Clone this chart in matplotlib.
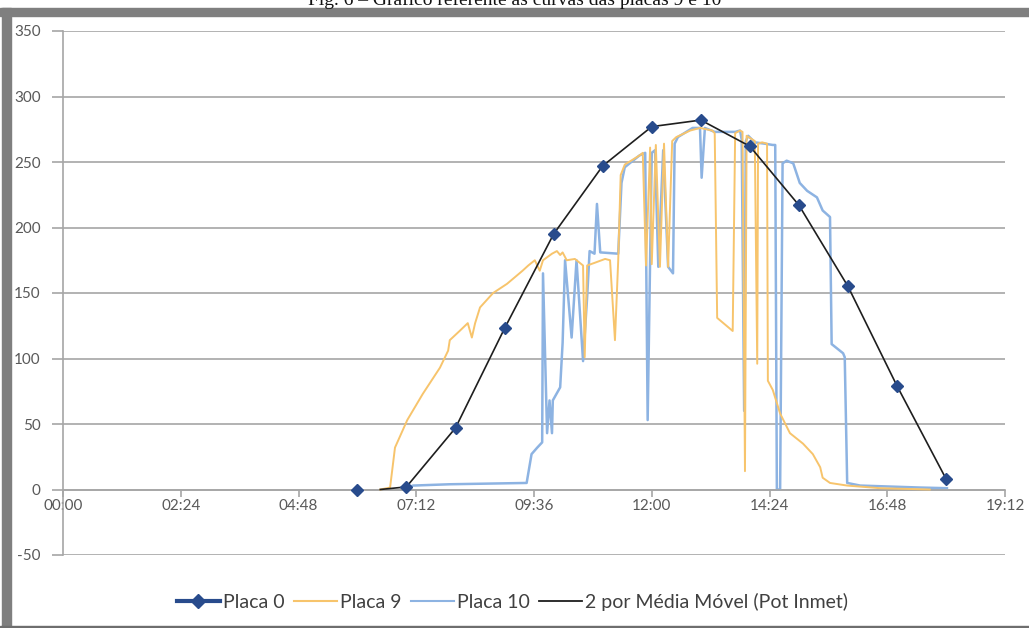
import matplotlib
matplotlib.use("Agg")
import matplotlib.pyplot as plt
from matplotlib.lines import Line2D
from matplotlib.patches import Rectangle

# ---- data (time of day, power) ----
placa0_t = ["06:00", "07:00", "08:00", "09:00", "10:00", "11:00", "12:00",
            "13:00", "14:00", "15:00", "16:00", "17:00", "18:00"]
placa0_v = [0, 2, 47, 123, 195, 247, 277, 282, 262, 217, 155, 79, 8]

mm_t = ["06:28", "07:00", "08:00", "09:00", "10:00", "11:00", "12:00",
        "13:00", "14:00", "15:00", "16:00", "17:00", "18:00"]
mm_v = [0, 2, 47, 123, 195, 247, 277, 282, 262, 217, 155, 79, 8]

placa9_t = ["06:28", "06:40", "06:46", "07:01", "07:20", "07:41", "07:51", "07:53",
            "08:05", "08:15", "08:20", "08:24", "08:30", "08:46", "09:03", "09:22",
            "09:29", "09:33", "09:37", "09:43", "09:47", "09:58", "10:04", "10:08",
            "10:11", "10:16", "10:26", "10:32", "10:36", "10:38", "10:41", "10:50",
            "11:03", "11:09", "11:15", "11:19", "11:22", "11:27", "11:45", "11:49",
            "11:53", "11:58", "12:00", "12:05", "12:10", "12:15", "12:20", "12:25",
            "12:30", "12:47", "12:59", "13:14", "13:17", "13:20", "13:39", "13:42",
            "13:48", "13:51", "13:54", "13:56", "14:06", "14:09", "14:10", "14:15",
            "14:21", "14:22", "14:28", "14:37", "14:49", "15:05", "15:17", "15:26",
            "15:29", "15:38", "15:59", "16:39", "17:40"]
placa9_v = [0, 1.5, 32, 53, 73, 93, 106, 114,
            121, 127, 116, 127, 139, 150, 157, 167,
            171, 173, 175, 167, 175, 180, 182, 179,
            181, 175, 176, 173, 171, 101, 171, 173,
            176, 175, 114, 175, 240, 248, 255, 257,
            171, 261, 172, 263, 170, 264, 170, 266,
            269, 274, 276, 274, 272, 131, 121, 272,
            274, 273, 14, 270, 266, 96, 264, 265,
            264, 83, 76, 58, 43, 35, 27, 17,
            9, 5, 3, 1, 0]

placa10_t = ["07:04", "07:08", "07:53", "09:27", "09:33", "09:40", "09:46", "09:47",
             "09:52", "09:55", "09:58", "09:59", "10:08", "10:11", "10:14", "10:22",
             "10:28", "10:36", "10:41", "10:44", "10:50", "10:53", "10:57", "11:19",
             "11:23", "11:27", "11:45", "11:52", "11:55", "12:00", "12:04", "12:08",
             "12:14", "12:20", "12:26", "12:28", "12:32", "12:50", "12:59", "13:01",
             "13:05", "13:17", "13:42", "13:48", "13:50", "13:53", "13:55", "13:58",
             "14:06", "14:18", "14:28", "14:31", "14:33", "14:37", "14:40", "14:45",
             "14:53", "15:01", "15:10", "15:22", "15:29", "15:38", "15:40", "15:54",
             "15:56", "15:59", "16:15", "17:28", "18:01"]
placa10_v = [2, 3, 4, 5, 27, 32, 36, 165,
             43, 68, 43, 68, 78, 112, 175, 116,
             175, 98, 147, 182, 180, 218, 181, 180,
             234, 246, 255, 257, 53, 257, 259, 170,
             259, 170, 165, 264, 269, 276, 276, 238,
             276, 273, 273, 274, 267, 60, 266, 270,
             265, 264, 263, 263, 0, 0, 249, 251,
             249, 234, 228, 223, 213, 208, 111, 104,
             101, 5, 3, 1.5, 1]

xticks = [0, 2.4, 4.8, 7.2, 9.6, 12.0, 14.4, 16.8, 19.2]
xtick_labels = ["00:00", "02:24", "04:48", "07:12", "09:36", "12:00", "14:24", "16:48", "19:12"]
yticks = [-50, 0, 50, 100, 150, 200, 250, 300, 350]


def hrs(s):
    h, m = s.split(":")
    return int(h) + int(m) / 60.0


C_P0 = "#284B8C"
C_P9 = "#F7C46C"
C_P10 = "#8DB3E2"
C_MM = "#1E1E1E"
GRID = "#A6A6A6"
TXT = "#595959"

plt.rcParams["font.family"] = ["Lato", "DejaVu Sans"]
plt.rcParams["axes.unicode_minus"] = False

fig = plt.figure(figsize=(10.29, 6.28), dpi=100)
W, H = 1029, 628

# document frame around the pasted chart
fig.patches.append(Rectangle((0, 1 - 16 / H), 1, 8 / H, transform=fig.transFigure,
                             color="#7F7F7F", zorder=0))
fig.patches.append(Rectangle((2 / W, 0), 9 / W, 1 - 8 / H, transform=fig.transFigure,
                             color="#7F7F7F", zorder=0))
fig.patches.append(Rectangle((0, 0), 1, 2 / H, transform=fig.transFigure,
                             color="#6E6E6E", zorder=0))
fig.text(0.5, 1 - 5 / H, "Fig. 6 – Gráfico referente às curvas das placas 9 e 10",
         ha="center", va="baseline", fontsize=14, family="Liberation Serif", color="#111111")

ax = fig.add_axes([63 / W, 1 - 555 / H, (1005 - 63) / W, (555 - 31) / H])
ax.set_xlim(0, 19.2)
ax.set_ylim(-50, 350)

for y in yticks:
    ax.axhline(y, color=GRID, lw=1.2, zorder=1)

ax.plot([hrs(t) for t in placa9_t], placa9_v, color=C_P9, lw=1.4, zorder=3)
ax.plot([hrs(t) for t in placa10_t], placa10_v, color=C_P10, lw=1.8, zorder=2)
ax.plot([hrs(t) for t in mm_t], mm_v, color=C_MM, lw=1.2, zorder=4)
ax.plot([hrs(t) for t in placa0_t], placa0_v, ls="", marker="D", ms=6,
        color=C_P0, zorder=5)

for s in ["top", "right"]:
    ax.spines[s].set_visible(False)
ax.spines["left"].set_position(("data", 0))
ax.spines["bottom"].set_position(("data", 0))
for s in ["left", "bottom"]:
    ax.spines[s].set_color(GRID)
    ax.spines[s].set_linewidth(1.2)

ax.set_xticks(xticks)
ax.set_xticklabels(xtick_labels)
ax.set_yticks(yticks)
ax.tick_params(axis="x", colors=GRID, labelcolor=TXT, labelsize=11, length=5, width=1.2, pad=2)
ax.tick_params(axis="y", colors=GRID, labelcolor=TXT, labelsize=11, length=8, width=1.2, pad=8)

handles = [Line2D([0], [0], color=C_P0, lw=3, marker="D", ms=7, label="Placa 0"),
           Line2D([0], [0], color=C_P9, lw=1.5, label="Placa 9"),
           Line2D([0], [0], color=C_P10, lw=1.5, label="Placa 10"),
           Line2D([0], [0], color=C_MM, lw=1.3, label="2 por Média Móvel (Pot Inmet)")]
leg = fig.legend(handles=handles, loc="center", bbox_to_anchor=(0.498, 1 - 602 / H), ncol=4,
                 frameon=False, fontsize=14, handlelength=2.2, handletextpad=0.15,
                 columnspacing=0.5)
for t in leg.get_texts():
    t.set_color("#404040")

fig.savefig("out.png", dpi=100)
